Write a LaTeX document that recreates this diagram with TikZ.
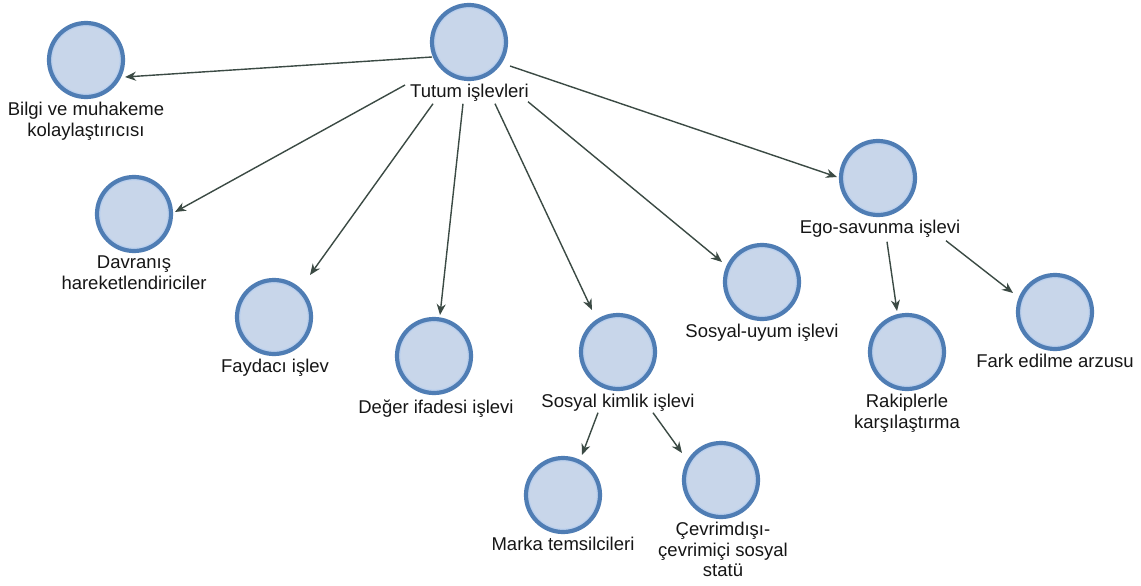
\documentclass[tikz,border=0pt]{standalone}
\usepackage{fontspec}
\setmainfont{Liberation Sans}
\usetikzlibrary{arrows.meta,calc}
\definecolor{bubfill}{HTML}{C8D6EA}
\definecolor{bubedge}{HTML}{4F7DB4}
\definecolor{bubring}{HTML}{B9CFEE}
\definecolor{arrowc}{HTML}{3B4A44}
\definecolor{textc}{HTML}{161616}

\begin{document}
\begin{tikzpicture}[x=1pt,y=-1pt,
  bubble/.style={circle, inner sep=0pt, minimum size=74pt, fill=bubfill,
    draw=bubedge, line width=4.2pt,
    path picture={\draw[bubring, line width=1.2pt]
      (path picture bounding box.center) circle[radius=34.2pt];}},
  caption/.style={anchor=north, inner sep=0pt, align=center, text=textc,
    font=\fontsize{18.5}{20.5}\selectfont},
  link/.style={draw=arrowc, line width=1.4pt,
    -{Stealth[length=11pt,width=9pt,inset=3.5pt]}}]

\path[use as bounding box, fill=white] (0,0) rectangle (1141,586);

% root
\node[bubble] (tut) at (469,42) {};
\node[caption] (tutT) at (469.5,84) {Tutum işlevleri};

% first level
\node[bubble] (bil) at (86,60) {};
\node[caption] (bilT) at (86,102) {Bilgi ve muhakeme\\kolaylaştırıcısı};
\node[bubble] (dav) at (134,214) {};
\node[caption] (davT) at (134,256) {Davranış\\hareketlendiriciler};
\node[bubble] (fay) at (274,317) {};
\node[caption] (fayT) at (275,359) {Faydacı işlev};
\node[bubble] (deg) at (434,356) {};
\node[caption] (degT) at (436,400) {Değer ifadesi işlevi};
\node[bubble] (sos) at (618,352) {};
\node[caption] (sosT) at (618,394) {Sosyal kimlik işlevi};
\node[bubble] (suy) at (762,282) {};
\node[caption] (suyT) at (762,324) {Sosyal-uyum işlevi};
\node[bubble] (ego) at (878,178) {};
\node[caption] (egoT) at (880,220) {Ego-savunma işlevi};

% second level
\node[bubble] (mar) at (563,495) {};
\node[caption] (marT) at (563,537) {Marka temsilcileri};
\node[bubble] (cev) at (721,480) {};
\node[caption] (cevT) at (723,522) {Çevrimdışı-\\çevrimiçi sosyal\\statü};
\node[bubble] (rak) at (907,352) {};
\node[caption] (rakT) at (907,394) {Rakiplerle\\karşılaştırma};
\node[bubble] (far) at (1055,312) {};
\node[caption] (farT) at (1055,354) {Fark edilme arzusu};

% connectors from the root
\draw[link] ($(tut)+(-37,15)$) -- ($(bil)+(39,17)$);
\draw[link] ($(tutT.north west)+(-5,1)$) -- ($(dav)+(41,-2)$);
\draw[link] ($(tutT.south)+(-36.5,2)$) -- ($(fay)+(36,-42)$);
\draw[link] ($(tutT.south)+(-6.5,2)$) -- ($(deg)+(6,-41)$);
\draw[link] ($(tutT.south)+(25.5,2)$) -- ($(sos)+(-26,-42)$);
\draw[link] ($(tutT.south)+(58.5,0)$) -- ($(suy)+(-40,-20)$);
\draw[link] ($(tut)+(41,24)$) -- ($(ego)+(-41,-1)$);

% connectors of the sub-branches
\draw[link] ($(sosT.south)+(-20,1)$) -- ($(mar)+(19,-40)$);
\draw[link] ($(sosT.south)+(35,1)$) -- ($(cev)+(-39,-27)$);
\draw[link] ($(egoT.south)+(7,4)$) -- ($(rak)+(-10,-41)$);
\draw[link] ($(egoT.south)+(66,3)$) -- ($(far)+(-42,-19)$);
\end{tikzpicture}
\end{document}
